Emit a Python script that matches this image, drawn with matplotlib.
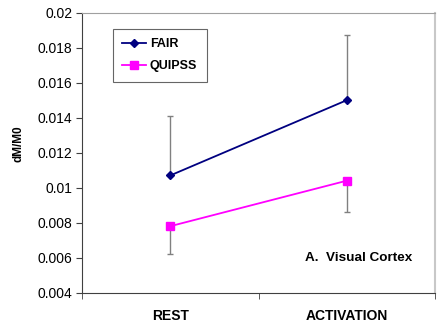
import matplotlib
matplotlib.use("Agg")
import matplotlib.pyplot as plt

plt.rcParams['font.family'] = ['Liberation Sans', 'DejaVu Sans']

categories = ["REST", "ACTIVATION"]
fair = [0.0107, 0.0150]
fair_err_up = [0.0034, 0.0037]
quipss = [0.0078, 0.0104]
quipss_err_down = [0.0016, 0.0018]
yticks = [0.004, 0.006, 0.008, 0.01, 0.012, 0.014, 0.016, 0.018, 0.02]
ytick_labels = ["0.004", "0.006", "0.008", "0.01", "0.012", "0.014", "0.016", "0.018", "0.02"]

W, H = 445, 324
L, R, T, B = 82, 435, 12.7, 292.7

fig = plt.figure(figsize=(W/100, H/100), dpi=100)
ax = fig.add_axes([L/W, 1 - B/H, (R-L)/W, (B-T)/H])

x = list(range(len(categories)))

ax.errorbar(x, fair, yerr=[[0, 0], fair_err_up], fmt='none', ecolor='#808080',
            elinewidth=1, capsize=2.5, capthick=1, zorder=2)
ax.errorbar(x, quipss, yerr=[quipss_err_down, [0, 0]], fmt='none', ecolor='#808080',
            elinewidth=1, capsize=2.5, capthick=1, zorder=2)
ax.plot(x, fair, color='#000080', marker='D', markersize=4, linewidth=1.3, label='FAIR', zorder=3)
ax.plot(x, quipss, color='#FF00FF', marker='s', markersize=5.5, linewidth=1.3, label='QUIPSS', zorder=3)

ax.set_xlim(-0.5, 1.5)
ax.set_ylim(0.004, 0.02)
ax.set_yticks(yticks)
ax.set_yticklabels(ytick_labels, fontsize=10)
ax.set_xticks(x)
ax.set_xticklabels(categories, fontsize=10, fontweight='bold')
ax.set_xticks([-0.5, 0.5, 1.5], minor=True)
ax.tick_params(axis='x', which='major', length=0, pad=12)
ax.tick_params(axis='x', which='minor', length=4, direction='out', color='#404040')
ax.tick_params(axis='y', length=4, direction='out', color='#404040', pad=3)

ax.spines['left'].set_color('#404040')
ax.spines['bottom'].set_color('#404040')
ax.spines['top'].set_color('#A0A0A0')
ax.spines['right'].set_color('#C8C8C8')
ax.spines['right'].set_linewidth(1.5)

ax.set_ylabel('dM/M0', fontsize=8.5, fontweight='bold')
ax.yaxis.set_label_coords((25 - L)/(R - L), (B - 144)/(B - T))

leg = ax.legend(loc='upper left', bbox_to_anchor=((113-L)/(R-L), 1 - (29-T)/(B-T)),
                frameon=True, fancybox=False, edgecolor='#404040',
                borderpad=0.75, labelspacing=0.8, handlelength=1.9, handletextpad=0.3,
                borderaxespad=0, prop={'weight': 'bold', 'size': 9})
leg.get_frame().set_linewidth(0.8)

ax.text((305 - L)/(R - L), (B - 258)/(B - T), 'A.  Visual Cortex', transform=ax.transAxes,
        fontsize=9.7, fontweight='bold', ha='left', va='center')

fig.savefig('out.png', dpi=100)
